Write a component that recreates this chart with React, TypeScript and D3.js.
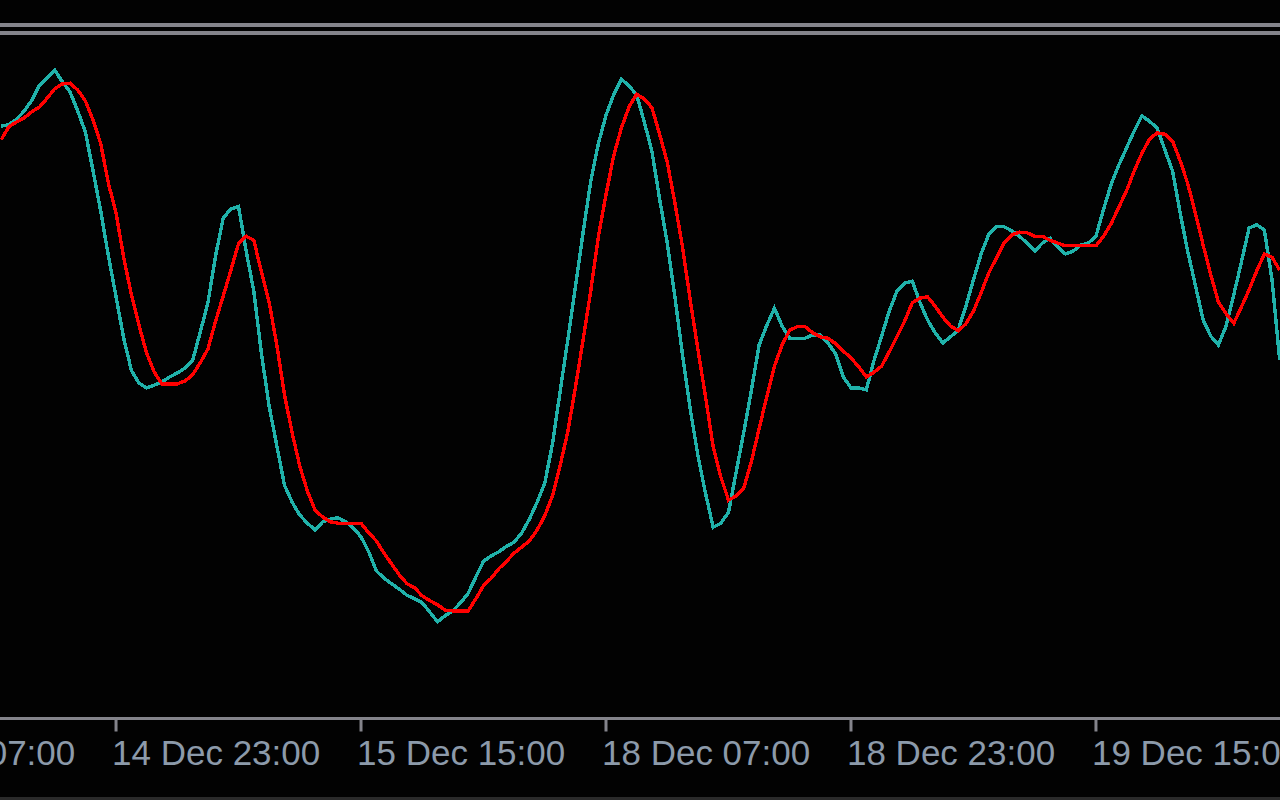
import React from "react";
import * as d3 from "d3";

// Stochastic oscillator, M30 bars (index 0 = first visible bar)
const mainK: number[] = [
  86.9, 87.1, 87.9, 89.1, 90.7, 92.9, 94.0, 95.1, 93.4, 91.9,
  89.1, 86.0, 80.3, 74.4, 67.8, 61.8, 55.7, 51.0, 49.1, 48.4,
  48.8, 49.3, 50.0, 50.6, 51.3, 52.4, 56.6, 60.9, 67.8, 73.4,
  74.7, 75.1, 68.5, 62.6, 53.4, 45.7, 39.9, 34.1, 31.6, 29.7,
  28.5, 27.5, 28.7, 29.1, 29.3, 28.7, 27.8, 26.5, 24.3, 21.5,
  20.4, 19.6, 18.8, 17.9, 17.4, 16.8, 15.4, 14.0, 14.9, 15.6,
  16.8, 18.2, 20.6, 22.9, 23.7, 24.3, 25.1, 25.7, 27.1, 29.1,
  31.6, 34.4, 40.1, 47.8, 55.4, 63.2, 71.2, 78.7, 84.3, 88.5,
  91.5, 93.8, 92.8, 91.5, 87.5, 83.2, 76.2, 69.7, 61.8, 53.2,
  45.3, 38.5, 32.9, 27.9, 28.5, 30.1, 36.0, 41.9, 48.1, 54.7,
  57.6, 60.1, 57.5, 55.7, 55.7, 55.7, 56.2, 56.2, 55.0, 53.4,
  50.0, 48.4, 48.4, 48.1, 52.4, 56.0, 59.7, 62.6, 63.8, 64.1,
  61.0, 58.4, 56.5, 55.0, 55.9, 56.9, 60.4, 64.3, 68.1, 71.0,
  72.1, 72.1, 71.5, 70.7, 69.7, 68.5, 69.7, 70.4, 69.1, 68.1,
  68.5, 69.4, 69.7, 70.7, 74.7, 78.4, 81.2, 83.7, 86.2, 88.4,
  87.6, 86.6, 83.4, 80.3, 74.1, 68.4, 63.4, 58.4, 56.0, 54.7,
  57.5, 62.1, 66.9, 71.9, 72.4, 71.6, 64.3, 52.5,
];

const signalD: number[] = [
  84.9, 86.8, 87.5, 88.1, 89.0, 89.7, 91.0, 92.4, 93.1, 93.2,
  92.2, 90.6, 87.8, 84.3, 78.5, 74.1, 67.6, 62.1, 57.6, 53.5,
  50.7, 49.0, 49.0, 49.0, 49.4, 50.3, 52.1, 54.1, 58.2, 61.9,
  65.7, 69.6, 70.7, 70.1, 65.4, 61.0, 54.7, 47.4, 41.8, 36.9,
  33.2, 30.4, 29.4, 28.7, 28.5, 28.5, 28.5, 28.5, 27.1, 25.9,
  24.1, 22.5, 20.9, 19.6, 19.0, 17.8, 17.1, 16.5, 15.7, 15.6,
  15.6, 15.6, 17.4, 19.3, 20.4, 21.8, 22.9, 24.1, 25.0, 25.9,
  27.5, 29.6, 32.5, 36.9, 41.9, 48.4, 55.4, 62.6, 70.6, 76.8,
  82.5, 86.6, 89.7, 91.6, 90.9, 89.6, 85.7, 81.6, 75.6, 69.1,
  61.3, 54.1, 47.1, 39.7, 35.3, 31.9, 32.5, 33.7, 37.6, 42.4,
  47.1, 51.6, 54.7, 56.9, 57.4, 57.4, 56.5, 55.9, 55.7, 54.9,
  53.8, 52.8, 51.5, 50.0, 50.7, 51.6, 53.7, 55.9, 58.2, 60.9,
  61.6, 61.8, 60.4, 58.8, 57.5, 56.8, 57.8, 59.7, 62.4, 65.3,
  67.5, 69.7, 70.9, 71.3, 71.2, 70.7, 70.7, 70.1, 69.7, 69.3,
  69.3, 69.3, 69.3, 69.3, 70.7, 72.6, 75.0, 77.4, 80.3, 82.9,
  85.0, 85.9, 85.7, 84.7, 81.8, 78.4, 74.0, 69.4, 65.0, 61.0,
  59.3, 57.9, 60.3, 62.8, 65.6, 68.1, 67.6, 65.7,
];

const tickIndex: number[] = [-17, 15, 47, 79, 111, 143];
const tickLabels: string[] = [
  "14 Dec 07:00",
  "14 Dec 23:00",
  "15 Dec 15:00",
  "18 Dec 07:00",
  "18 Dec 23:00",
  "19 Dec 15:00",
];

const W = 1280;
const H = 800;

export default function App() {
  const x = d3.scaleLinear().domain([0, mainK.length - 1]).range([1.2, 1279.7]);
  const y = d3.scaleLinear().domain([0, 100]).range([717, 37]);

  const line = d3
    .line<number>()
    .x((_, i) => x(i))
    .y((d) => y(d))
    .curve(d3.curveLinear);

  const axisY = 718.5;

  return (
    <div style={{ position: "fixed", left: 0, top: 0, width: W, height: H, background: "#000" }}>
      <svg width={W} height={H} style={{ display: "block" }}>
        <rect x={0} y={0} width={W} height={H} fill="#020202" />
        {/* window separator lines */}
        <rect x={0} y={23} width={W} height={4} fill="#84848b" />
        <rect x={0} y={31} width={W} height={4} fill="#84848b" />

        {/* series */}
        <path
          d={line(mainK) || ""}
          fill="none"
          stroke="#20B2AA"
          strokeWidth={3.4}
          shapeRendering="crispEdges"
          strokeLinejoin="miter"
        />
        <path
          d={line(signalD) || ""}
          fill="none"
          stroke="#FF0000"
          strokeWidth={3.4}
          shapeRendering="crispEdges"
          strokeLinejoin="miter"
        />

        {/* time axis */}
        <rect x={0} y={axisY - 1.5} width={W} height={3} fill="#84848b" />
        {tickIndex.map((ti, k) => (
          <g key={k}>
            <rect x={x(ti) - 1.5} y={axisY} width={3} height={13} fill="#84848b" />
            <text
              x={x(ti) - 4}
              y={765}
              fill="#8c9aaa"
              fontFamily="'Liberation Sans', Arial, sans-serif"
              fontSize={35}
            >
              {tickLabels[k]}
            </text>
          </g>
        ))}
        <rect x={0} y={797} width={W} height={3} fill="#2a2a2a" />
      </svg>
    </div>
  );
}
